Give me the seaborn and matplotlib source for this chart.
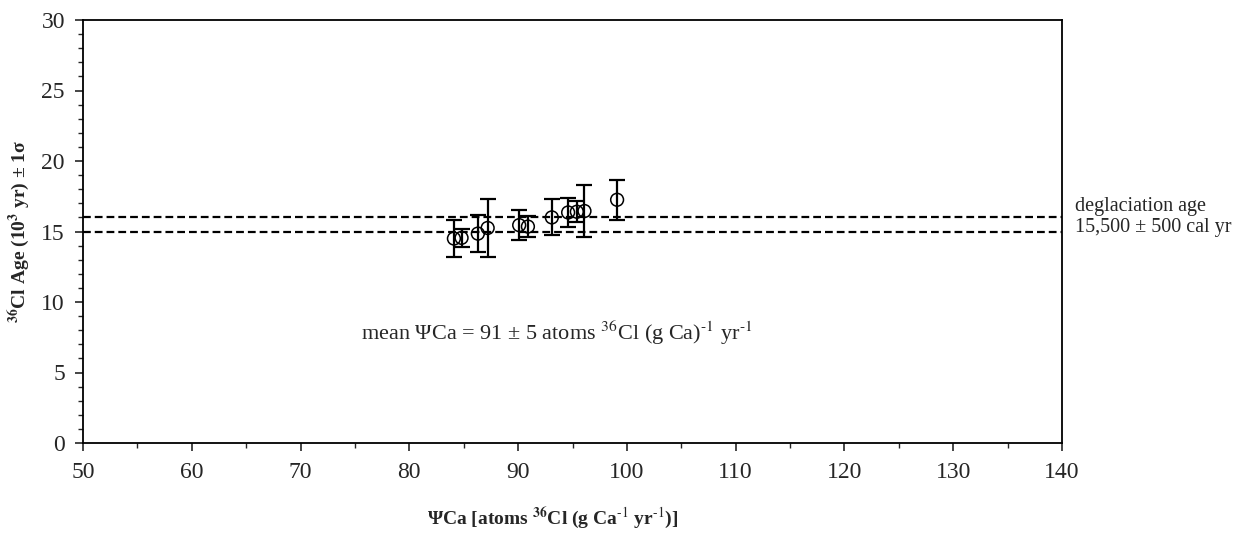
import matplotlib
matplotlib.use("Agg")
import matplotlib.pyplot as plt
import seaborn as sns
import numpy as np
import pandas as pd
from matplotlib.ticker import MultipleLocator

# Data
psi_ca = [84.1, 84.8, 86.3, 87.2, 90.1, 90.9, 93.1, 94.6, 95.4, 96.1, 99.1]
age_kyr = [14.5, 14.55, 14.85, 15.25, 15.45, 15.35, 16.0, 16.35, 16.4, 16.45, 17.25]
age_err = [1.3, 0.63, 1.3, 2.08, 1.08, 0.72, 1.27, 1.03, 0.73, 1.86, 1.43]
deglac_lines = [15.0, 16.0]
x_ticks = list(range(50, 141, 10))
y_ticks = list(range(0, 31, 5))

df = pd.DataFrame({"psi": psi_ca, "age": age_kyr, "err": age_err})

sns.set_style("ticks")
plt.rcParams["font.family"] = ["Liberation Serif", "DejaVu Serif"]
plt.rcParams["mathtext.fontset"] = "stix"

fig = plt.figure(figsize=(12.45, 5.39), dpi=100)
ax = fig.add_axes([83 / 1245, 96 / 539, (1062 - 83) / 1245, (443 - 20) / 539])

for y in deglac_lines:
    ax.axhline(y, color="black", lw=1.6, ls=(0, (3.5, 1.8)), zorder=1)

ax.errorbar(df["psi"], df["age"], yerr=df["err"], fmt="none", ecolor="black",
            elinewidth=1.6, capsize=6, capthick=1.6, zorder=2)
sns.scatterplot(data=df, x="psi", y="age", ax=ax, marker="o", s=85,
                facecolors="none", edgecolor="black", linewidth=1.1, zorder=3)

ax.set_xlim(50, 140)
ax.set_ylim(0, 30)
ax.set_xticks(x_ticks)
ax.set_yticks(y_ticks)
ax.xaxis.set_minor_locator(MultipleLocator(5))
ax.yaxis.set_minor_locator(MultipleLocator(1))
ax.tick_params(axis="both", which="major", direction="out", length=6, width=1.2,
               labelsize=17, top=False, right=False)
ax.tick_params(axis="x", which="major", pad=8)
ax.tick_params(axis="y", which="major", pad=7)
ax.tick_params(axis="both", which="minor", direction="out", length=3.5, width=1.0,
               top=False, right=False)
for sp in ax.spines.values():
    sp.set_visible(True)
    sp.set_linewidth(1.3)
    sp.set_color("black")

ax.set_xlabel(r"ΨCa [atoms $^{\mathbf{36}}$Cl (g Ca$^{\text{-1}}$ yr$^{\text{-1}}$)]",
              fontsize=14, fontweight="bold")
ax.set_ylabel(r"$^{\mathbf{36}}$Cl Age (10$^{\mathbf{3}}$ yr) ± 1σ",
              fontsize=14, fontweight="bold")
ax.xaxis.set_label_coords((553 - 83) / 979, (443 - 506) / 423)
ax.yaxis.set_label_coords((33 - 83) / 979, 0.5)

ax.text(75.6, 7.8, r"mean ΨCa = 91 ± 5 atoms $^{36}$Cl (g Ca)$^{\text{-1}}$ yr$^{\text{-1}}$",
        fontsize=16, ha="left", va="center")
ax.text(141.2, 16.8, "deglaciation age", fontsize=14.5, ha="left", va="center",
        clip_on=False)
ax.text(141.2, 15.25, "15,500 ± 500 cal yr", fontsize=14.5, ha="left", va="center",
        clip_on=False)

fig.savefig("out.png", dpi=100)
